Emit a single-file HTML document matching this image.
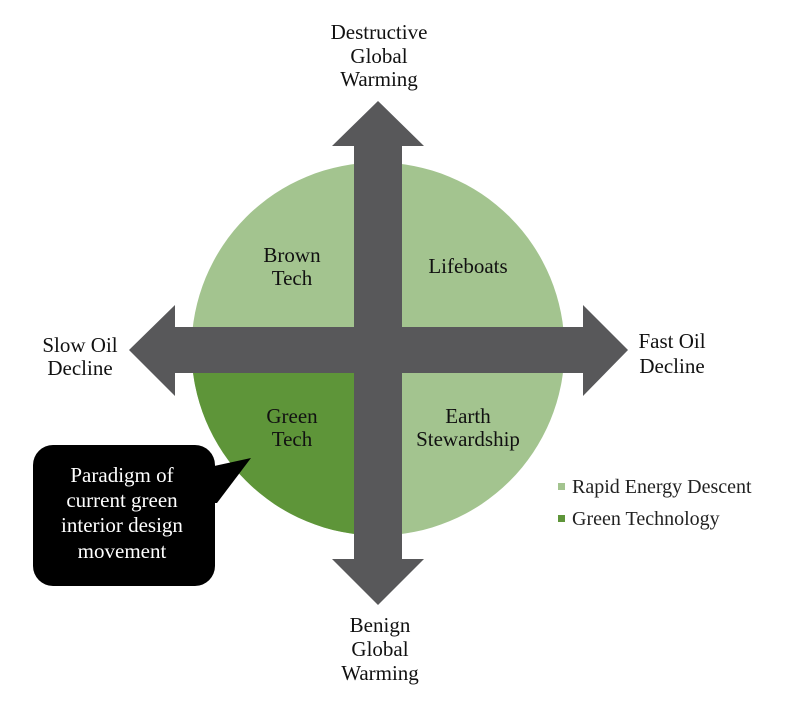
<!DOCTYPE html>
<html>
<head>
<meta charset="utf-8">
<style>
  html, body { margin: 0; padding: 0; background: #ffffff; }
  svg { display: block; }
  text { font-family: "Liberation Serif", "Times New Roman", serif; }
</style>
</head>
<body>
<svg width="786" height="712" viewBox="0 0 786 712" xmlns="http://www.w3.org/2000/svg">
  <rect x="0" y="0" width="786" height="712" fill="#ffffff"/>

  <!-- circle quadrants -->
  <circle cx="378" cy="349" r="186.5" fill="#a3c48f"/>
  <path d="M378,349 L378,535.5 A186.5,186.5 0 0 1 191.5,349 Z" fill="#5e9539"/>

  <!-- vertical arrow -->
  <polygon points="378,101 424,146 402,146 402,559 424,559 378,605 332,559 354,559 354,146 332,146" fill="#58585a"/>
  <!-- horizontal arrow -->
  <polygon points="129,350 175,305 175,327 583,327 583,305 628,350 583,396 583,373 175,373 175,396" fill="#58585a"/>

  <!-- top label -->
  <g font-size="21" fill="#111" text-anchor="middle">
    <text x="379" y="39">Destructive</text>
    <text x="379" y="63">Global</text>
    <text x="379" y="86">Warming</text>
  </g>
  <!-- bottom label -->
  <g font-size="21" fill="#111" text-anchor="middle">
    <text x="380" y="632">Benign</text>
    <text x="380" y="656">Global</text>
    <text x="380" y="680">Warming</text>
  </g>
  <!-- left label -->
  <g font-size="21" fill="#111" text-anchor="middle">
    <text x="80" y="352">Slow Oil</text>
    <text x="80" y="375">Decline</text>
  </g>
  <!-- right label -->
  <g font-size="21" fill="#111" text-anchor="middle">
    <text x="672" y="348">Fast Oil</text>
    <text x="672" y="373">Decline</text>
  </g>

  <!-- quadrant labels -->
  <g font-size="21" fill="#111" text-anchor="middle">
    <text x="292" y="262">Brown</text>
    <text x="292" y="285">Tech</text>
    <text x="468" y="273">Lifeboats</text>
    <text x="292" y="423">Green</text>
    <text x="292" y="446">Tech</text>
    <text x="468" y="423">Earth</text>
    <text x="468" y="446">Stewardship</text>
  </g>

  <!-- callout -->
  <rect x="33" y="445" width="182" height="141" rx="20" ry="20" fill="#000"/>
  <polygon points="205,468 251,458 217,503 205,503" fill="#000"/>
  <g font-size="21" fill="#ffffff" text-anchor="middle">
    <text x="122" y="482">Paradigm of</text>
    <text x="122" y="507">current green</text>
    <text x="122" y="532">interior design</text>
    <text x="122" y="558">movement</text>
  </g>

  <!-- legend -->
  <rect x="558" y="483" width="7" height="7" fill="#a3c48f"/>
  <rect x="558" y="515" width="7" height="7" fill="#5e9539"/>
  <g font-size="20" fill="#222">
    <text x="572" y="493">Rapid Energy Descent</text>
    <text x="572" y="525">Green Technology</text>
  </g>
</svg>
</body>
</html>
